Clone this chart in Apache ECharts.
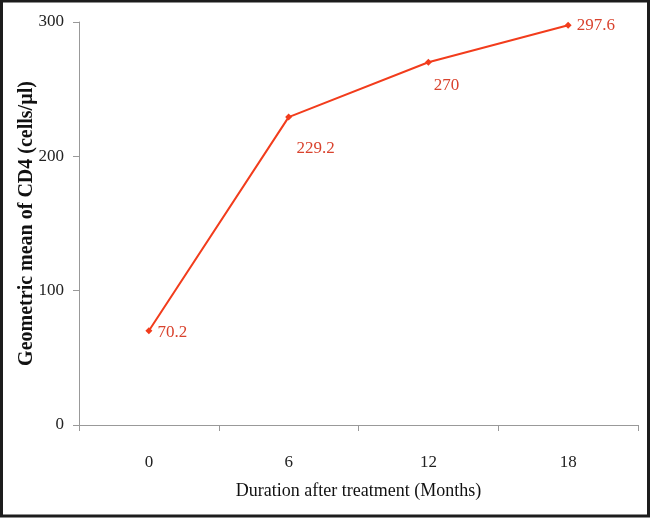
<!DOCTYPE html>
<html>
<head>
<meta charset="utf-8">
<script src="https://cdn.jsdelivr.net/npm/echarts@6/dist/echarts.min.js"></script>
<style>
html,body{margin:0;padding:0;background:#fff;}
#c{width:651px;height:519px;}
</style>
</head>
<body>
<div id="c"></div>
<script>
const categories = ['0', '6', '12', '18'];
const cd4Values = [70.2, 229.2, 270, 297.6];
const yTicks = { min: 0, max: 300, interval: 100 };

const labelPositions = [
  { position: 'right', offset: [0, 2] },
  { position: 'bottom', offset: [27, 14] },
  { position: 'bottom', offset: [18, 6] },
  { position: 'right', offset: [0, 0] }
];

const chart = echarts.init(document.getElementById('c'), null, { renderer: 'canvas' });
const serif = '"Liberation Serif", "DejaVu Serif", serif';
chart.setOption({
  backgroundColor: '#fff',
  animation: false,
  graphic: [{
    type: 'rect',
    shape: { x: 1.5, y: 1, width: 647, height: 515 },
    style: { fill: 'none', stroke: '#1c1c1c', lineWidth: 3 },
    z: 100
  }],
  grid: { left: 79, right: 13, top: 22, bottom: 94 },
  xAxis: {
    type: 'category',
    data: categories,
    boundaryGap: true,
    name: 'Duration after treatment (Months)',
    nameLocation: 'middle',
    nameGap: 57,
    nameMoveOverlap: false,
    nameTextStyle: { fontFamily: serif, fontSize: 18, color: '#111' },
    axisLine: { lineStyle: { color: '#999', width: 1 } },
    axisTick: { show: true, alignWithLabel: false, length: 6, lineStyle: { color: '#999' } },
    axisLabel: { margin: 29, fontFamily: serif, fontSize: 17, color: '#222' },
    splitLine: { show: false }
  },
  yAxis: {
    type: 'value',
    min: yTicks.min,
    max: yTicks.max,
    interval: yTicks.interval,
    name: 'Geometric mean of CD4 (cells/µl)',
    nameLocation: 'middle',
    nameGap: 42,
    nameMoveOverlap: false,
    nameTextStyle: { fontFamily: serif, fontSize: 20, fontWeight: 'bold', color: '#111' },
    axisLine: { show: true, lineStyle: { color: '#999', width: 1 } },
    axisTick: { show: true, length: 6, lineStyle: { color: '#999' } },
    axisLabel: { margin: 15, fontFamily: serif, fontSize: 17, color: '#222' },
    splitLine: { show: false }
  },
  series: [{
    type: 'line',
    data: cd4Values.map((v, i) => ({
      value: v,
      label: Object.assign({ show: true }, labelPositions[i])
    })),
    symbol: 'diamond',
    symbolSize: 7,
    lineStyle: { color: '#f23c1c', width: 2 },
    itemStyle: { color: '#f23c1c' },
    label: {
      show: true,
      fontFamily: serif,
      fontSize: 17,
      color: '#d9432e',
      distance: 5
    }
  }]
});
</script>
</body>
</html>
